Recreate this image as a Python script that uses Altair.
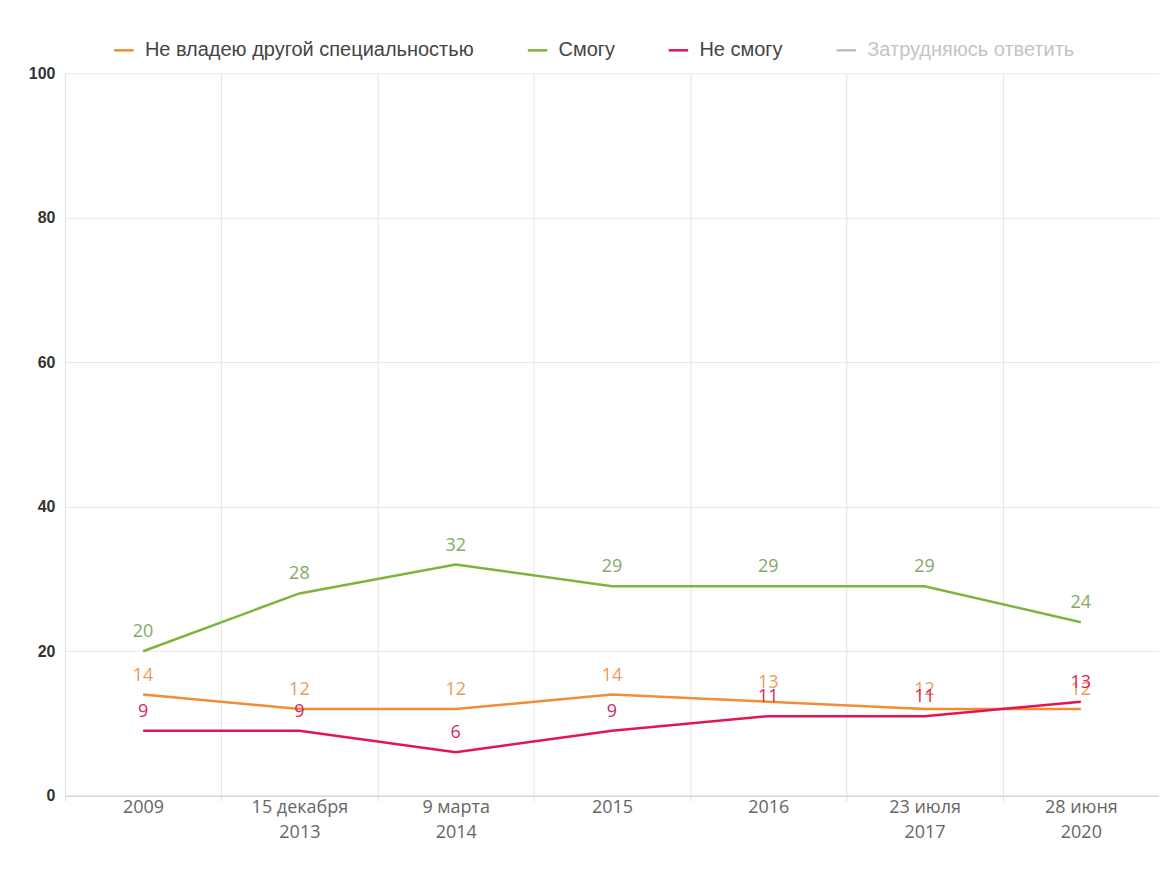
import altair as alt
import pandas as pd

categories = ["2009", "15 декабря|2013", "9 марта|2014", "2015", "2016", "23 июля|2017", "28 июня|2020"]
series_names = ["Не владею другой специальностью", "Смогу", "Не смогу", "Затрудняюсь ответить"]
s_no_other = [14, 12, 12, 14, 13, 12, 12]
s_can = [20, 28, 32, 29, 29, 29, 24]
s_cannot = [9, 9, 6, 9, 11, 11, 13]

line_colors = ["#f28c35", "#7db43c", "#e3154f", "#bdbdbd"]
label_colors = {"Не владею другой специальностью": "#ec9a5c",
                "Смогу": "#86a866",
                "Не смогу": "#d42a5a"}

rows = []
for name, vals in zip(series_names[:3], [s_no_other, s_can, s_cannot]):
    for c, v in zip(categories, vals):
        rows.append({"date": c, "series": name, "value": v, "lc": label_colors[name]})
df = pd.DataFrame(rows)

x = alt.X("date:N", sort=categories,
          scale=alt.Scale(type="band", paddingInner=0, paddingOuter=0),
          axis=alt.Axis(title=None, labelAngle=0, labelExpr="split(datum.label, '|')",
                        labelFont="Open Sans", labelFontSize=18, labelColor="#666666",
                        labelPadding=-2, labelLineHeight=25,
                        tickBand="extent", ticks=True, tickSize=5, tickColor="#dddddd",
                        grid=True, gridColor="#e3e3e3", domainColor="#cccccc"))
y = alt.Y("value:Q", scale=alt.Scale(domain=[0, 100]),
          axis=alt.Axis(title=None, values=[0, 20, 40, 60, 80, 100], labelFont="Liberation Sans",
                        labelFontSize=16, labelFontWeight="bold", labelColor="#333333",
                        labelPadding=10, ticks=False, domain=False, gridColor="#e8e8e8"))
color = alt.Color("series:N", scale=alt.Scale(domain=series_names, range=line_colors),
                  legend=alt.Legend(title=None, orient="none", direction="horizontal",
                                    legendX=48, legendY=-34, symbolType="stroke",
                                    symbolSize=380, symbolStrokeWidth=2.5,
                                    labelFont="Liberation Sans", labelFontSize=20,
                                    labelColor=alt.ExprRef(expr="datum.label === 'Затрудняюсь ответить' ? '#c4c4c4' : '#444444'"),
                                    columnPadding=48, labelOffset=10, labelLimit=500))

base = alt.Chart(df)
lines = base.mark_line(strokeWidth=2.5).encode(x=x, y=y, color=color)
texts = base.mark_text(font="Open Sans", fontSize=18, dy=-19, baseline="middle").encode(
    x=alt.X("date:N", sort=categories), y="value:Q", text="value:Q",
    color=alt.Color("lc:N", scale=None))

chart = alt.layer(lines, texts).properties(
    width=1095, height=723,
    autosize=alt.AutoSizeParams(type="none"),
    padding={"left": 57, "top": 65, "right": 0, "bottom": 60},
    background="white",
).configure_view(stroke=None)

chart.save("out.html", embed_options={"renderer": "svg", "actions": False})
